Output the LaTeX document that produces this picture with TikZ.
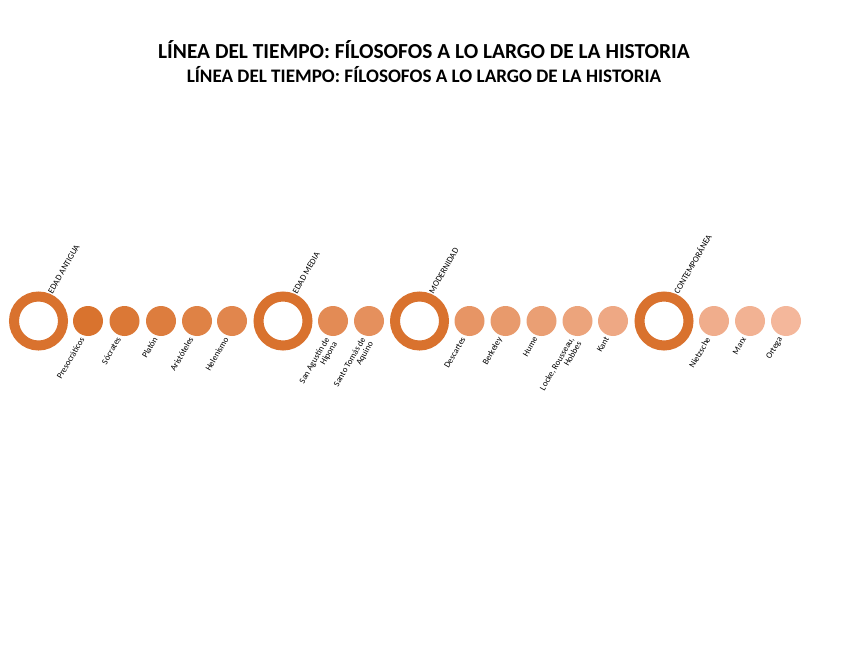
\documentclass[tikz,border=0pt]{standalone}
\usepackage{fontspec}
\setmainfont{Carlito}
\definecolor{ringc}{RGB}{217,114,46}
\definecolor{c0}{RGB}{217,115,46}
\definecolor{c1}{RGB}{219,120,54}
\definecolor{c2}{RGB}{221,125,62}
\definecolor{c3}{RGB}{223,130,69}
\definecolor{c4}{RGB}{225,134,77}
\definecolor{c5}{RGB}{227,139,85}
\definecolor{c6}{RGB}{229,144,93}
\definecolor{c7}{RGB}{231,149,101}
\definecolor{c8}{RGB}{232,154,108}
\definecolor{c9}{RGB}{234,159,116}
\definecolor{c10}{RGB}{236,164,124}
\definecolor{c11}{RGB}{238,168,132}
\definecolor{c12}{RGB}{240,173,140}
\definecolor{c13}{RGB}{242,178,147}
\definecolor{c14}{RGB}{244,183,155}
\begin{document}
\begin{tikzpicture}[x=1pt,y=-1pt,
  ring/.style={circle,draw=ringc,line width=10pt,minimum size=49pt,inner sep=0pt},
  dot/.style={circle,minimum size=30pt,inner sep=0pt},
  lblfont/.style={font=\fontsize{8.7}{8.7}\selectfont},
  toplbl/.style={lblfont,rotate=60,anchor=west,inner sep=0pt},
  botlbl/.style={lblfont,rotate=60,anchor=north east,align=right,inner sep=0pt},
  title1/.style={font=\bfseries\fontsize{21.4}{24}\selectfont,anchor=base,inner sep=0pt},
  title2/.style={font=\bfseries\fontsize{19.1}{22}\selectfont,anchor=base,inner sep=0pt}]
\useasboundingbox (0,0) rectangle (848,655);
\node[title1] (t1) at (424,59) {LÍNEA DEL TIEMPO: FÍLOSOFOS A LO LARGO DE LA HISTORIA};
\node[title2] (t2) at (424,83) {LÍNEA DEL TIEMPO: FÍLOSOFOS A LO LARGO DE LA HISTORIA};
% rings
\node[ring] (r1) at (38.5,321) {};
\node[ring] (r2) at (283,321) {};
\node[ring] (r3) at (419.5,321) {};
\node[ring] (r4) at (664,321) {};
\node[toplbl] (lr1) at ([shift={(11.5,-28)}]r1.center) {EDAD ANTIGUA};
\node[toplbl] (lr2) at ([shift={(11.5,-28)}]r2.center) {EDAD MEDIA};
\node[toplbl] (lr3) at ([shift={(11.5,-28)}]r3.center) {MODERNIDAD};
\node[toplbl] (lr4) at ([shift={(11.5,-28)}]r4.center) {CONTEMPORÁNEA};
% dots
\foreach \x/\c/\n/\t in {88/c0/d1/Presocráticos, 124.5/c1/d2/Sócrates, 161/c2/d3/Platón, 197/c3/d4/Aristóteles, 232/c4/d5/Helenismo, 333/c5/d6/{San Agustín de\\Hipona}, 369/c6/d7/{Santo Tomás de\\Aquino}, 469.5/c7/d8/Descartes, 505.5/c8/d9/Berkeley, 541.5/c9/d10/Hume, 577.5/c10/d11/{Locke, Rousseau,\\Hobbes}, 613/c11/d12/Kant, 714/c12/d13/Nietzsche, 750/c13/d14/Marx, 786/c14/d15/Ortega}{
  \node[dot,fill=\c] (\n) at (\x,321) {};
  \node[botlbl] (l\n) at ([shift={(-8.5,15)}]\n.center) {\t};
}
\end{tikzpicture}
\end{document}
